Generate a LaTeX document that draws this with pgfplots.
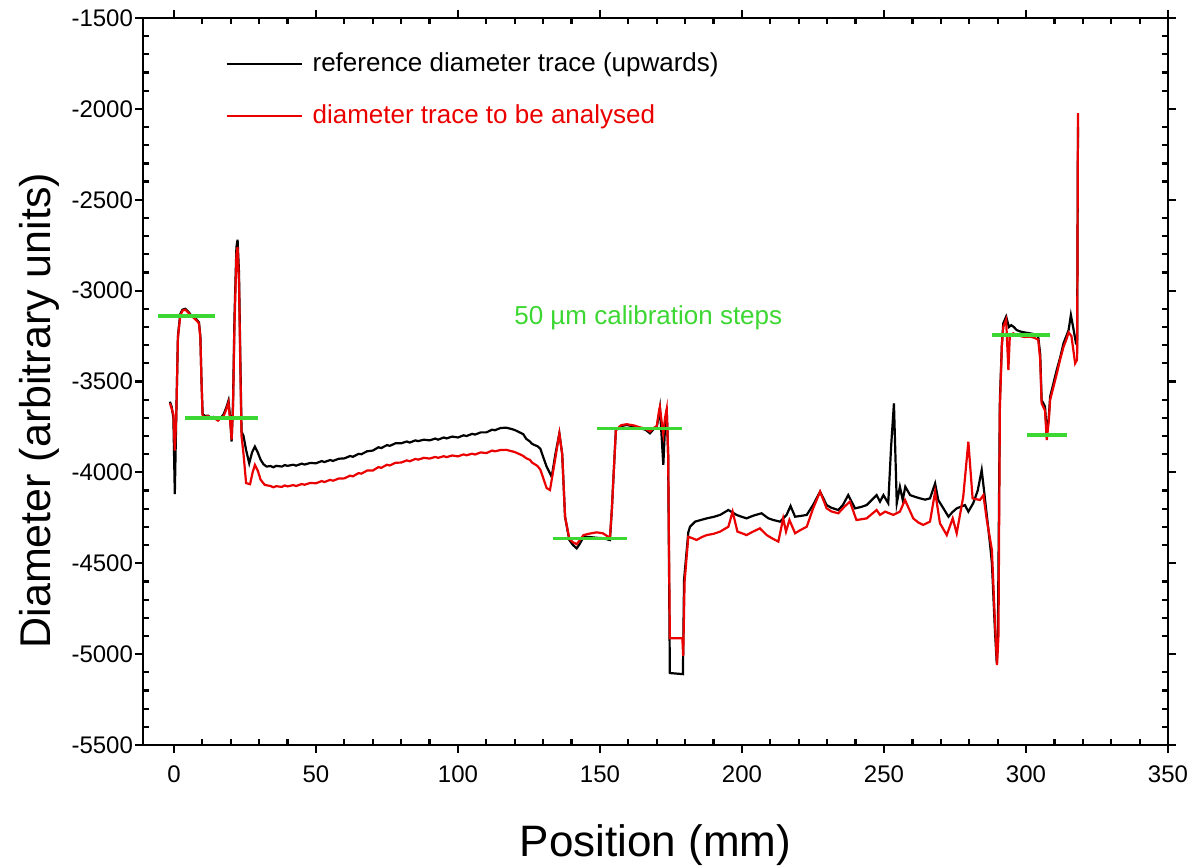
\documentclass[border=0pt]{standalone}
\usepackage{pgfplots}
\pgfplotsset{compat=1.18}
\usepackage{fontspec}
\setmainfont{Liberation Sans}
\definecolor{calgreen}{RGB}{60,215,50}
\definecolor{trred}{RGB}{235,0,0}
\begin{document}
\begin{tikzpicture}
\begin{axis}[
  scale only axis,
  width=512.5pt, height=363.5pt,
  xmin=-10.9, xmax=350, ymin=-5500, ymax=-1500,
  xtick={0,50,...,350}, ytick={-5500,-5000,...,-1500},
  tick pos=both, xticklabel pos=lower, yticklabel pos=left,
  tick align=outside, major tick length=4pt,
  extra x ticks={10,20,30,40,60,70,80,90,110,120,130,140,160,170,180,190,210,220,230,240,260,270,280,290,310,320,330,340},
  extra y ticks={-5400,-5300,-5200,-5100,-4900,-4800,-4700,-4600,-4400,-4300,-4200,-4100,-3900,-3800,-3700,-3600,-3400,-3300,-3200,-3100,-2900,-2800,-2700,-2600,-2400,-2300,-2200,-2100,-1900,-1800,-1700,-1600},
  extra x tick labels={}, extra y tick labels={},
  extra x tick style={tick align=inside, major tick length=3pt},
  extra y tick style={tick align=inside, major tick length=3pt},
  axis line style={line width=1.3pt},
  every tick/.style={line width=1.1pt, black},
  /pgf/number format/assume math mode=true,
  /pgf/number format/1000 sep={},
  ticklabel style={font=\fontsize{12}{14}\selectfont},
  yticklabel style={xshift=2.5pt},
  xticklabel style={yshift=-3pt},
  xlabel={Position (mm)},
  ylabel={Diameter (arbitrary units)},
  xlabel style={at={(axis description cs:0.5,-0.154)}, anchor=base, font=\fontsize{22}{26}\selectfont},
  ylabel style={at={(axis description cs:-0.0907,0.46)}, anchor=base, font=\fontsize{21.5}{26}\selectfont},
  legend style={at={(axis description cs:0.08,0.958)}, anchor=north west, draw=none, fill=none, inner sep=0pt,
    font=\fontsize{13}{15}\selectfont, row sep=11pt, nodes={inner xsep=5pt}},
  legend cell align=left,
  legend image code/.code={\draw[#1, line width=1.1pt] (0pt,0pt) -- (37.5pt,0pt);},
]
% reference diameter trace (black)
\addplot[black, line width=1.1pt] coordinates {
(-1.4,-3611) (-0.8,-3640) (-0.2,-3700) (0.3,-4120) (0.8,-3700) (1.4,-3250) (2.2,-3130) (3.0,-3105) (4.0,-3100) (5.0,-3115) (6.0,-3135) (7.0,-3145) (8.0,-3160) (8.8,-3175) (9.3,-3250) (9.7,-3500) (10.1,-3680) (11.0,-3690) (12.0,-3688) (13.0,-3700) (14.0,-3695) (15.5,-3712) (16.5,-3700) (17.5,-3680) (18.5,-3640) (19.2,-3605) (19.8,-3700) (20.3,-3830) (20.8,-3620) (21.3,-3150) (22.0,-2760) (22.4,-2720) (22.9,-2900) (23.4,-3400) (23.8,-3776) (24.5,-3800) (25.4,-3877) (26.5,-3950) (27.5,-3890) (28.5,-3858) (29.5,-3890) (30.5,-3930) (31.5,-3955) (32.6,-3968) (34,-3965) (35,-3972) (36,-3964) (38,-3968) (39,-3960) (40,-3964) (42,-3958) (43,-3963) (45,-3952) (46,-3957) (48,-3948) (50,-3950) (52,-3938) (53,-3943) (55,-3932) (56,-3937) (58,-3925) (60,-3923) (62,-3910) (63,-3914) (65,-3898) (66,-3900) (68,-3884) (70,-3880) (72,-3862) (73,-3866) (75,-3850) (76,-3854) (78,-3840) (80,-3840) (82,-3830) (83,-3836) (85,-3824) (86,-3828) (88,-3820) (90,-3824) (92,-3814) (93,-3820) (95,-3808) (96,-3813) (98,-3803) (100,-3808) (102,-3796) (103,-3800) (105,-3788) (106,-3792) (108,-3780) (110,-3780) (112,-3765) (113,-3768) (115,-3756) (117,-3754) (119,-3762) (120,-3767) (122,-3782) (123,-3790) (124,-3815) (125.4,-3831) (126,-3842) (127,-3850) (128,-3856) (129,-3870) (130,-3915) (131.2,-3968) (133,-4024) (134.3,-3900) (135.7,-3786) (136.7,-3900) (137.7,-4244) (139.2,-4372) (140.5,-4400) (141.8,-4418) (143,-4390) (144.2,-4354) (146,-4355) (148.8,-4360) (151,-4362) (153.5,-4372) (154.2,-4200) (154.7,-4042) (155.6,-3767) (157.5,-3745) (159.4,-3739) (162,-3748) (164,-3757) (166,-3765) (167.6,-3785) (169,-3760) (170,-3749) (170.8,-3680) (171.1,-3647) (171.7,-3800) (172.3,-3959) (172.9,-3750) (173.5,-3657) (174,-3900) (174.6,-5104) (179.2,-5110) (179.6,-4592) (181.1,-4330) (181.7,-4299) (183.5,-4271) (185.5,-4262) (187.6,-4253) (190,-4245) (192.3,-4234) (195.2,-4207) (198.1,-4234) (200,-4245) (201.6,-4253) (204,-4238) (206.9,-4225) (209.3,-4253) (211,-4262) (213.4,-4271) (215.7,-4234) (217.1,-4185) (218.7,-4244) (220.5,-4240) (222.8,-4234) (225,-4180) (227.5,-4106) (229.8,-4180) (231.5,-4195) (233.9,-4207) (235.5,-4180) (237.4,-4125) (239.8,-4198) (242,-4190) (243.9,-4180) (247.4,-4125) (248.6,-4161) (249.8,-4125) (251.5,-4170) (252.5,-3859) (253.5,-3620) (254.5,-4170) (255.6,-4079) (256.6,-4152) (257.5,-4079) (259.2,-4125) (261,-4135) (262.7,-4143) (264.5,-4150) (266.2,-4143) (268,-4061) (269.1,-4152) (271,-4200) (272.7,-4244) (274,-4220) (275.6,-4198) (278.5,-4180) (279.7,-4216) (281.4,-4170) (283,-4100) (284.4,-3987) (285.6,-4152) (287.3,-4390) (288,-4500) (289,-4850) (289.7,-5050) (290.1,-4900) (290.8,-3602) (291.5,-3300) (292,-3180) (293,-3143) (294,-3200) (294.8,-3190) (295.7,-3200) (296.7,-3217) (298,-3225) (299.5,-3230) (301.4,-3235) (303,-3240) (304.3,-3253) (305,-3350) (305.5,-3602) (306.7,-3638) (307.3,-3785) (308,-3700) (308.5,-3583) (309.5,-3520) (310.8,-3437) (312,-3370) (313.2,-3290) (314.2,-3250) (315,-3217) (315.8,-3134) (316.7,-3210) (317.6,-3290) (318.0,-3300) (318.3,-2100)
};
\addlegendentry{reference diameter trace (upwards)}
% trace to be analysed (red)
\addplot[trred, line width=1.1pt] coordinates {
(-1.4,-3620) (-0.8,-3650) (-0.2,-3680) (0.3,-3880) (0.8,-3700) (1.4,-3260) (2.2,-3140) (3.0,-3110) (4.0,-3105) (5.0,-3120) (6.0,-3140) (7.0,-3150) (8.0,-3165) (8.8,-3180) (9.3,-3260) (9.7,-3500) (10.1,-3690) (11,-3695) (12,-3690) (13,-3705) (14,-3700) (15.5,-3715) (16.5,-3700) (17.5,-3690) (18.5,-3650) (19.2,-3615) (19.8,-3720) (20.3,-3820) (20.8,-3640) (21.3,-3200) (22.0,-2800) (22.4,-2760) (22.9,-2950) (23.4,-3450) (23.8,-3800) (24.5,-3900) (25.4,-4059) (26.8,-4065) (27.7,-4000) (28.5,-3959) (29.5,-3990) (30.5,-4040) (31.5,-4060) (32,-4069) (34,-4075) (35,-4082) (36,-4076) (38,-4080) (39,-4072) (40,-4077) (42,-4070) (43,-4075) (45,-4064) (46,-4068) (48,-4058) (50,-4060) (52,-4048) (53,-4053) (55,-4041) (56,-4046) (58,-4034) (60,-4033) (62,-4018) (63,-4022) (65,-4004) (66,-4007) (68,-3990) (70,-3990) (72,-3971) (73,-3975) (75,-3958) (76,-3962) (78,-3947) (80,-3946) (82,-3934) (83,-3939) (85,-3926) (86,-3930) (88,-3920) (90,-3924) (92,-3915) (93,-3920) (95,-3911) (96,-3916) (98,-3907) (100,-3912) (102,-3901) (103,-3906) (105,-3897) (106,-3902) (108,-3890) (110,-3894) (112,-3880) (113,-3884) (115,-3877) (117,-3876) (119,-3884) (120,-3888) (122,-3902) (123,-3910) (124,-3922) (125.4,-3932) (126,-3945) (127,-3955) (128,-3965) (129,-3985) (130,-4030) (131.2,-4086) (132.4,-4097) (134.3,-3920) (135.7,-3786) (136.7,-3900) (137.7,-4244) (139.2,-4365) (140.5,-4385) (141.8,-4395) (143,-4370) (144.2,-4345) (146,-4338) (148.8,-4330) (151,-4335) (153.5,-4360) (154.2,-4200) (154.7,-4042) (155.6,-3767) (157.5,-3740) (159.4,-3735) (162,-3742) (164,-3752) (166,-3760) (167.6,-3775) (169,-3755) (170,-3745) (170.8,-3660) (171.1,-3640) (171.7,-3720) (172.3,-3790) (172.9,-3700) (173.5,-3650) (174,-3900) (174.6,-4913) (179.0,-4913) (179.3,-5010) (179.8,-4600) (181.1,-4354) (182.5,-4362) (184,-4372) (186,-4355) (187.6,-4345) (190,-4338) (192.3,-4326) (195.2,-4299) (196.7,-4216) (198.4,-4326) (200,-4335) (201.6,-4345) (204,-4325) (206.3,-4308) (208.7,-4345) (210.5,-4362) (212.8,-4381) (214.5,-4253) (215.5,-4326) (216.7,-4262) (218.7,-4335) (220.5,-4318) (222.8,-4299) (225,-4200) (227.5,-4106) (229.8,-4198) (231.5,-4215) (233.9,-4225) (236,-4190) (238,-4161) (240.3,-4262) (242,-4258) (243.9,-4253) (247.4,-4207) (248.6,-4234) (250.4,-4216) (253.3,-4234) (255.6,-4216) (257.4,-4152) (260.3,-4253) (262,-4275) (263.8,-4289) (266.2,-4271) (268,-4106) (269.7,-4280) (272.1,-4345) (274.2,-4253) (275.6,-4335) (277.9,-4134) (279.7,-3831) (281.2,-4143) (283.8,-4152) (285,-4125) (286.2,-4262) (288,-4427) (289,-4800) (289.8,-5060) (290.3,-4900) (290.8,-3650) (291.5,-3300) (292,-3200) (293,-3160) (293.8,-3437) (294.3,-3250) (295.5,-3235) (296.7,-3245) (298,-3250) (299.5,-3255) (301.4,-3253) (303,-3260) (304.3,-3270) (305,-3380) (305.5,-3620) (306.7,-3660) (307.3,-3822) (308,-3720) (308.5,-3600) (309.5,-3540) (310.8,-3460) (312,-3380) (313.2,-3310) (314.2,-3270) (315,-3230) (316.0,-3250) (317.3,-3400) (318.0,-3380) (318.3,-2023)
};
\addlegendentry{\textcolor{trred}{diameter trace to be analysed}}
% calibration steps (green)
\addplot[calgreen, line width=1.6pt, forget plot] coordinates {(-5.6,-3140) (14.4,-3140)};
\addplot[calgreen, line width=1.6pt, forget plot] coordinates {(3.9,-3701) (29.6,-3701)};
\addplot[calgreen, line width=1.6pt, forget plot] coordinates {(133.5,-4362) (159.5,-4362)};
\addplot[calgreen, line width=1.6pt, forget plot] coordinates {(149,-3758) (178.9,-3758)};
\addplot[calgreen, line width=1.6pt, forget plot] coordinates {(288,-3244) (308.5,-3244)};
\addplot[calgreen, line width=1.6pt, forget plot] coordinates {(300.4,-3794) (314.4,-3794)};
\node[text=calgreen, font=\fontsize{13}{15}\selectfont] at (axis cs:167,-3150) {50 µm calibration steps};
\end{axis}
\pgfresetboundingbox
\path ([shift={(-71.5pt,-61pt)}]current axis.south west) rectangle ([shift={(17.5pt,9pt)}]current axis.north east);
\end{tikzpicture}
\end{document}
